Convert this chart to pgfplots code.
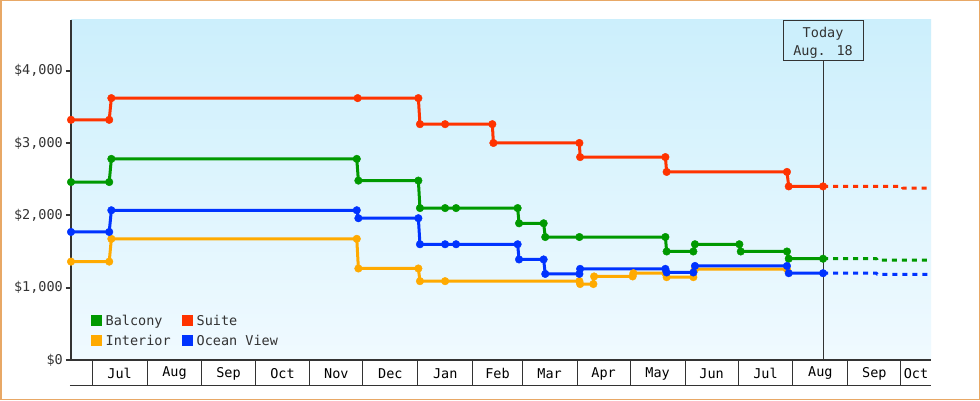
\documentclass[border=0pt]{standalone}
\usepackage{pgfplots}
\pgfplotsset{compat=1.18}
\usepackage{fontspec}
\setmainfont{DejaVu Sans Mono}
\definecolor{cgreen}{RGB}{0,153,0}
\definecolor{cred}{RGB}{255,51,0}
\definecolor{cblue}{RGB}{0,51,255}
\definecolor{corange}{RGB}{255,170,0}
\definecolor{bgtop}{RGB}{204,239,252}
\definecolor{bgbot}{RGB}{240,250,255}
\definecolor{axgray}{RGB}{51,51,51}
\definecolor{bordercol}{RGB}{232,168,102}
\newcommand{\f}{\fontsize{13.5pt}{15pt}\selectfont}
\begin{document}
\begin{tikzpicture}
\useasboundingbox (0,0) rectangle (980pt,400pt);
\fill[white] (0,0) rectangle (980pt,400pt);
\begin{axis}[
  at={(71pt,40pt)}, anchor=south west,
  scale only axis, width=860pt, height=340pt,
  xmin=-12, xmax=474, ymin=0, ymax=4700,
  clip=false,
  axis lines*=left,
  x axis line style={line width=1.2pt, color=axgray},
  y axis line style={line width=2pt, color=axgray},
  axis background/.style={top color=bgtop, bottom color=bgbot},
  tick align=outside,
  major tick length=5pt,
  ytick={0,1000,2000,3000,4000},
  yticklabels={\$0,{\$1,000},{\$2,000},{\$3,000},{\$4,000}},
  ytick style={line width=2pt, color=axgray},
  yticklabel style={font=\f, color=axgray, anchor=east, inner sep=0pt, xshift=-3pt},
  xtick={15.5,46.5,77,107.5,138,168.5,199.5,229,258.5,289,319.5,350,380.5,411.5,442,465.5},
  xticklabels={Jul,Aug,Sep,Oct,Nov,Dec,Jan,Feb,Mar,Apr,May,Jun,Jul,Aug,Sep,Oct},
  xtick style={draw=none},
  xticklabel style={font=\f, color=black, anchor=center, inner sep=0pt, yshift=-8.5pt},
  legend columns=2,
  legend cell align=left,
  legend style={draw=none, fill=none, at={(0.02326,0.145)}, anchor=north west,
    inner sep=0pt, row sep=0pt, font=\f, text=axgray,
    nodes={inner ysep=0pt, inner xsep=1.5pt, minimum height=20pt},
    /tikz/every odd column/.append style={column sep=2pt},
    /tikz/every even column/.append style={column sep=10pt}},
  legend image code/.code={\fill[#1, draw=none] (0pt,-5.5pt) rectangle (11pt,5.5pt);},
  every axis plot/.append style={line width=3pt, line join=round},
  mark size=3.8pt,
]
% Balcony
\addplot[cgreen, mark=*, mark options={solid, line width=0.4pt}] coordinates {
(-12,2460) (9.6,2460) (10.8,2780) (149.5,2780) (150.4,2480) (184.3,2480) (185.2,2100)
(199.4,2100) (205.6,2100) (240.4,2100) (241.2,1890) (255.1,1890) (256.0,1700)
(275.3,1700) (323.9,1700) (324.6,1500) (339.7,1500) (340.6,1600) (365.7,1600)
(366.5,1500) (392.6,1500) (393.6,1400) (413,1400)};
\addlegendentry{Balcony}
% Suite
\addplot[cred, mark=*, mark options={solid, line width=0.4pt}] coordinates {
(-12,3320) (9.6,3320) (10.8,3620) (150,3620) (184.3,3620) (185.2,3260) (199.4,3260)
(226.1,3260) (226.7,3000) (275.3,3000) (275.7,2805) (323.9,2805) (324.6,2600)
(392.6,2600) (393.6,2400) (413,2400)};
\addlegendentry{Suite}
% Interior
\addplot[corange, mark=*, mark options={solid, line width=0.4pt}] coordinates {
(-12,1360) (9.6,1360) (10.8,1675) (149.5,1675) (150.4,1265) (184.3,1265) (185.2,1090)
(199.4,1090) (275.3,1090) (275.7,1050) (283.2,1050) (283.6,1155) (305.4,1155)
(305.8,1200) (323.9,1200) (324.6,1145) (339.7,1145) (340.6,1255) (392.6,1255)};
\addlegendentry{Interior}
% Ocean View
\addplot[cblue, mark=*, mark options={solid, line width=0.4pt}] coordinates {
(-12,1770) (9.6,1770) (10.8,2070) (149.5,2070) (150.4,1960) (184.3,1960) (185.2,1600)
(199.4,1600) (205.6,1600) (240.4,1600) (241.2,1390) (255.1,1390) (256.0,1190)
(275.3,1190) (275.7,1260) (323.9,1260) (324.6,1210) (339.7,1210) (340.6,1300)
(392.6,1300) (393.6,1200) (413,1200)};
\addlegendentry{Ocean View}
% projections
\addplot[cred, forget plot, dash pattern=on 5pt off 5pt] coordinates {
(413,2400) (457.8,2400) (458,2375) (474,2375)};
\addplot[cgreen, forget plot, dash pattern=on 5pt off 5pt] coordinates {
(413,1400) (443.3,1400) (443.5,1380) (474,1380)};
\addplot[cblue, forget plot, dash pattern=on 5pt off 5pt] coordinates {
(413,1200) (443.3,1200) (443.5,1185) (474,1185)};
% month boxes
\pgfplotsinvokeforeach{0,31,62,92,123,153,184,215,243,274,304,335,365,396,427,457}{
  \draw[axgray, line width=1pt] (axis cs:#1,0) -- ([yshift=-25pt]axis cs:#1,0);
}
\draw[axgray, line width=1pt] ([yshift=-25pt]axis cs:-12.6,0) -- ([yshift=-25pt]axis cs:474,0);
% today
\draw[axgray, line width=1pt] (axis cs:413,0) -- (axis cs:413,4700);
\node[draw=axgray, line width=1pt, fill=bgtop, minimum width=80pt, minimum height=40pt,
  inner sep=0pt, anchor=north] (tbox) at (axis cs:413,4700) {};
\node[inner sep=0pt, align=center, font=\fontsize{13.5pt}{17.7pt}\selectfont, text=axgray,
  anchor=center, yshift=-2pt] at (tbox.center) {Today\\Aug. 18};
\end{axis}
\draw[bordercol, line width=1.5pt] (0.75pt,0.75pt) rectangle (979.25pt,399.25pt);
\end{tikzpicture}
\end{document}
